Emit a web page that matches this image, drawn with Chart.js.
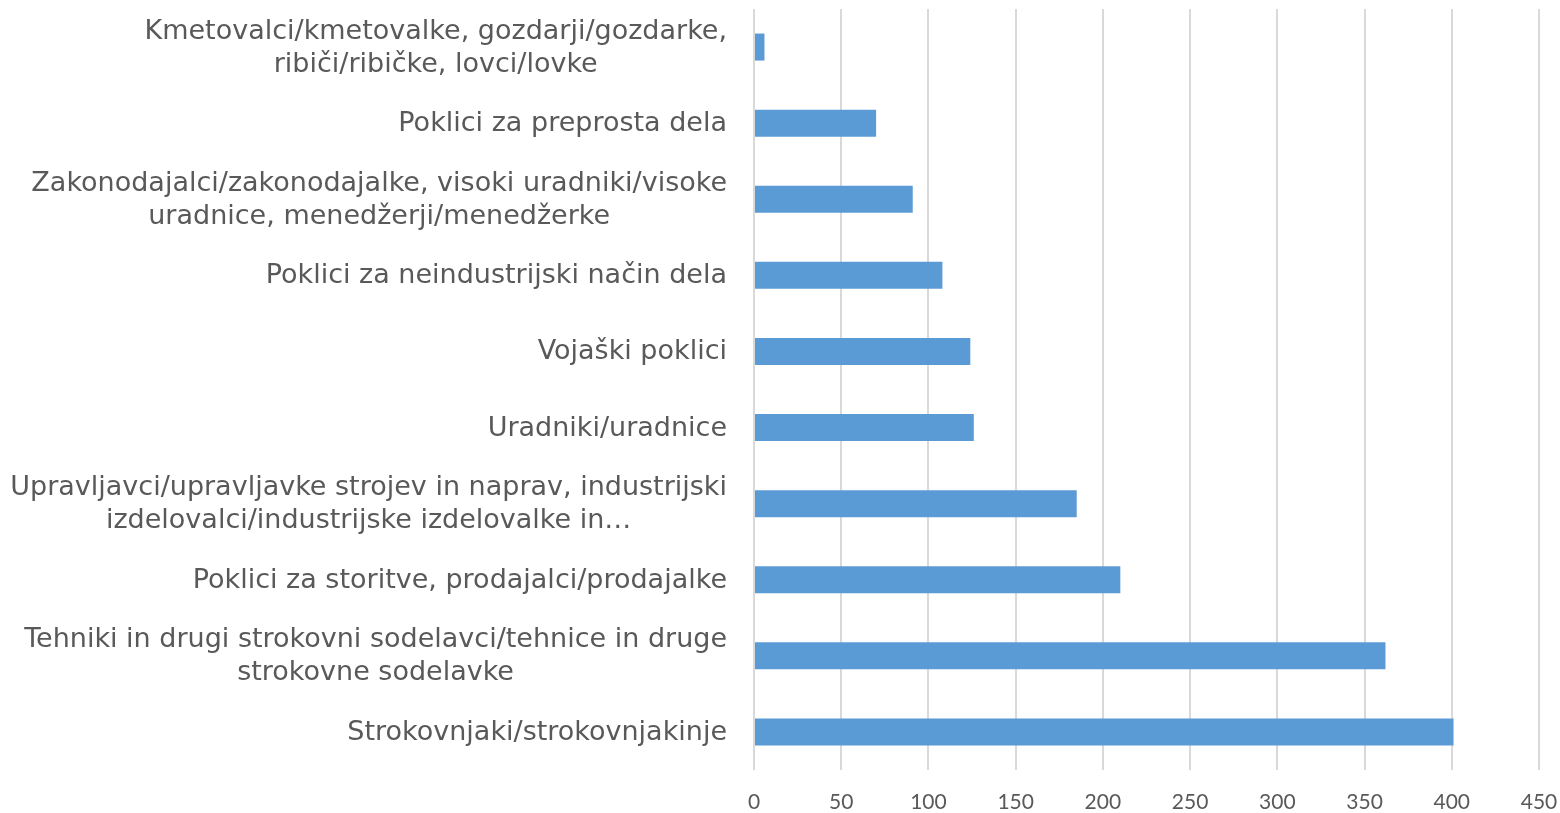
<!DOCTYPE html>
<html>
<head>
<meta charset="utf-8">
<script src="https://cdn.jsdelivr.net/npm/chart.js@4"></script>
<style>
html,body{margin:0;padding:0;background:#fff;}
#wrap{position:relative;width:1560px;height:813px;}
</style>
</head>
<body>
<div id="wrap"><canvas id="c" width="1560" height="813"></canvas></div>
<script>
const categories = [
  ["Kmetovalci/kmetovalke, gozdarji/gozdarke,", "ribiči/ribičke, lovci/lovke"],
  "Poklici za preprosta dela",
  ["Zakonodajalci/zakonodajalke, visoki uradniki/visoke", "uradnice, menedžerji/menedžerke"],
  "Poklici za neindustrijski način dela",
  "Vojaški poklici",
  "Uradniki/uradnice",
  ["Upravljavci/upravljavke strojev in naprav, industrijski", "izdelovalci/industrijske izdelovalke in…"],
  "Poklici za storitve, prodajalci/prodajalke",
  ["Tehniki in drugi strokovni sodelavci/tehnice in druge", "strokovne sodelavke"],
  "Strokovnjaki/strokovnjakinje"
];
const values = [6, 70, 91, 108, 124, 126, 185, 210, 362, 401];
const xMin = 0, xMax = 450, xStep = 50;

// Draws the category labels of the y scale, with the lines of a wrapped
// label centred on each other (as in the original chart).
const centredCategoryLabels = {
  id: 'centredCategoryLabels',
  afterDraw(chart) {
    const ys = chart.scales.y;
    const ctx = chart.ctx;
    const labels = chart.data.labels;
    const gap = 27, lineH = 33;
    ctx.save();
    ctx.font = '27px "DejaVu Sans"';
    ctx.fillStyle = '#595959';
    ctx.textBaseline = 'middle';
    ctx.textAlign = 'center';
    const right = ys.right - gap;
    labels.forEach((lab, i) => {
      const lines = Array.isArray(lab) ? lab : [lab];
      const maxW = Math.max(...lines.map(l => ctx.measureText(l).width));
      const cx = right - maxW / 2;
      const cy = ys.getPixelForValue(i);
      lines.forEach((l, k) => {
        ctx.fillText(l, cx, cy - (lines.length - 1) * lineH / 2 + k * lineH + 1);
      });
    });
    ctx.restore();
  }
};

new Chart(document.getElementById('c'), {
  type: 'bar',
  data: {
    labels: categories,
    datasets: [{
      data: values,
      backgroundColor: '#5b9bd5',
      borderWidth: 0,
      barPercentage: 0.355,
      categoryPercentage: 1
    }]
  },
  options: {
    indexAxis: 'y',
    responsive: false,
    animation: false,
    layout: { padding: { top: 9, right: 21, left: 0, bottom: 0 } },
    plugins: { legend: { display: false }, tooltip: { enabled: false } },
    scales: {
      x: {
        min: xMin, max: xMax,
        ticks: { stepSize: xStep, color: '#595959', font: { family: 'Lato', size: 21 }, padding: 20, maxRotation: 0 },
        grid: { color: '#d9d9d9', lineWidth: 2, drawTicks: false },
        border: { display: false },
        afterFit: s => { s.height = 43; s.paddingLeft = 0; s.paddingRight = 0; }
      },
      y: {
        ticks: { display: false },
        grid: { display: false, drawTicks: false },
        border: { display: false },
        afterFit: s => { s.width = 754; s.paddingTop = 0; s.paddingBottom = 0; }
      }
    }
  },
  plugins: [centredCategoryLabels]
});
</script>
</body>
</html>
